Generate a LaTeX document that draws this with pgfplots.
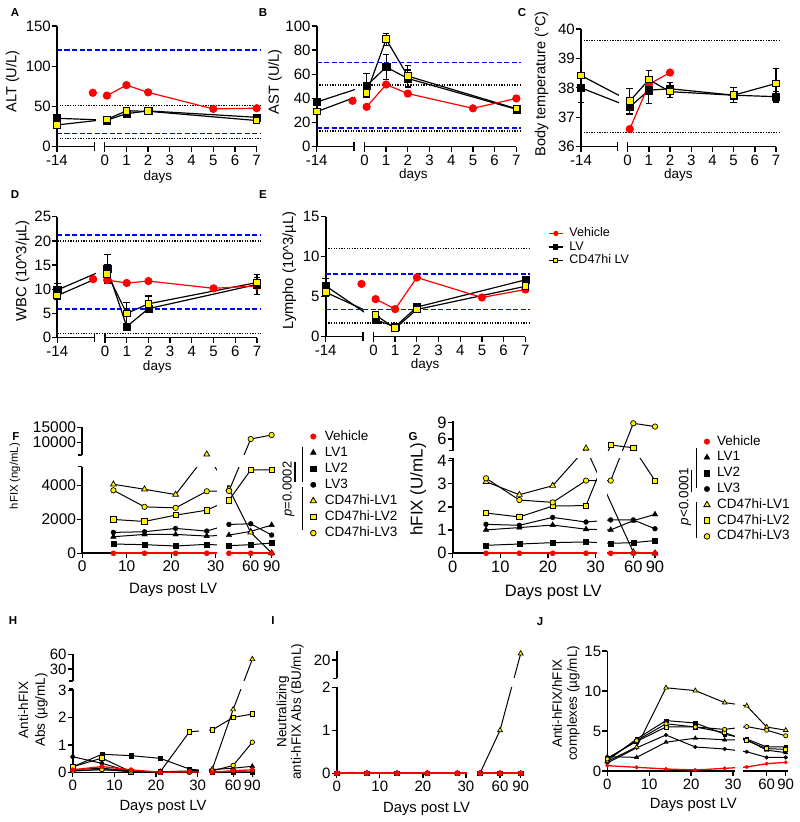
\documentclass[border=0pt]{standalone}
\usepackage{fontspec}
\setmainfont{Liberation Sans}
\usepackage{pgfplots}
\pgfplotsset{compat=1.18}
\usepackage{pgfplotstable}

\newcommand{\fs}[1]{\fontsize{#1}{#1}\selectfont}

% ---------- data, panels A-E (day, LV, err, CD47hi LV, err, vehicle) ----------
\pgfplotstableread{
d    lv    lve  cd    cde  veh
-14  35.3  0    27    0    nan
-1   nan   0    nan   0    67
-0.5 nan   0    nan   0    nan
0.1  33    0    34    0    63.5
1    41    0    44.5  0    76.5
2    44.5  0    44    0    67.5
5    nan   0    nan   0    47
7    36.5  0    32.5  0    47.8
}\tabA
\pgfplotstableread{
d    lv    lve  cd    cde  veh
-14  37    3    29    2.5  nan
-1   nan   0    nan   0    38
-0.5 nan   0    nan   0    nan
0.1  50.5  10   44.5  4    33
1    66    10.5 89    5    51.5
2    56.5  7    58.5  9    44
5    nan   0    nan   0    31.8
7    31    0    31.5  0    40
}\tabB
\pgfplotstableread{
d    lv    lve  cd    cde  veh
-14  38.0  0.5  38.42 0    nan
0.1  37.35 0.25 37.55 0.42 36.6
1    37.92 0.45 38.28 0.32 38.12
2    37.97 0.2  37.87 0.2  38.52
5    37.75 0.25 37.75 0    nan
7    37.7  0.18 38.15 0.5  nan
}\tabC
\pgfplotstableread{
d    lv    lve  cd    cde  veh
-14  9.85  1.4  8.7   0.8  nan
-1   nan   0    nan   0    12.1
-0.5 nan   0    nan   0    nan
0.1  14.3  2.9  13.2  2.0  11.9
1    2.3   0.4  5.0   2.2  11.3
2    6.0   0.6  7.0   1.6  11.7
5    nan   0    nan   0    10.2
7    11.0  2.1  11.4  1.0  10.7
}\tabD
\pgfplotstableread{
d    lv    lve  cd    cde  veh
-14  6.35  0.9  5.55  0.5  nan
-1   nan   0    nan   0    6.6
-0.5 nan   0    nan   0    nan
0.1  2.1   0.2  2.7   0.2  4.7
1    1.25  0.3  1.05  0.2  3.45
2    3.7   0.3  3.4   0.3  7.4
5    nan   0    nan   0    4.9
7    7.1   0.3  6.3   0.6  5.9
}\tabE

% ---------- data, panels F-J (day, vehicle, LV1-3, CD47hi-LV1-3) ----------
\pgfplotstableread{
d   veh l1   l2  l3   c1   c2   c3
7   0   975  546 1229 4059 1990 3708
14  0   1110 507 1268 3766 1873 2732
21  0   1110 429 1463 3454 2244 2673
28  0   1015 527 1307 6000 2537 3649
35  0   1070 448 1697 3805 3122 3668
60  0   1290 507 1736 1230 4900 11100
90  0   1660 604 1073 20   4900 12435
}\tabF
\pgfplotstableread{
d   veh l1   l2    l3   c1   c2   c3
7   0   1.01 0.345 1.25 3.09 1.74 3.24
14  0   1.11 0.40  1.21 2.53 1.57 2.30
21  0   1.22 0.46  1.55 2.92 2.04 2.20
28  0   1.04 0.49  1.35 4.3  2.06 3.14
35  0   1.01 0.43  1.44 nan  4.9  3.14
60  0   1.41 0.46  1.44 0.05 4.4  8.9
90  0   1.68 0.55  1.06 0.0  3.14 8.3
}\tabG
\pgfplotstableread{
d   veh  l1   l2   l3   c1   c2   c3
0   0.09 0.05 0.2  0.57 0.1  0.2  0.05
7   0.21 0.1  0.66 0.33 0.15 0.52 0.1
14  0.09 0.02 0.61 0.02 0.05 0.02 0.05
21  0.0  0.0  0.51 0.0  0.02 0.02 0.0
28  0.02 0.0  0.12 0.0  0.05 1.48 0.0
35  0.0  0.1  0.02 0.0  0.12 1.55 0.05
60  0.06 0.15 0.02 0.0  2.3  2.01 0.25
90  0.09 0.22 0.02 0.0  50   2.13 1.1
}\tabH
\pgfplotstableread{
d   veh l1 l2 l3 c1   c2 c3
0   0   0  0  0  0    0  0
7   0   0  0  0  0    0  0
14  0   0  0  0  0    0  0
21  0   0  0  0  0    0  0
28  0   0  0  0  0    0  0
35  0   0  0  0  0    0  0
60  0   0  0  0  1.0  0  0
90  0   0  0  0  21.5 0  0
}\tabI
\pgfplotstableread{
d   veh  l1  l2  l3   c1    c2  c3
0   0.67 1.8 1.3 1.0  1.2   1.6 1.5
7   0.46 1.7 4.0 2.9  3.0   3.7 3.8
14  0.25 3.6 6.3 4.5  10.4  5.5 5.9
21  0.13 4.1 6.0 3.0  10.05 5.5 5.5
28  0.33 3.9 4.6 2.75 8.55  4.8 5.2
35  0.5  3.9 4.0 2.4  8.15  3.8 5.55
60  0.92 2.6 3.0 1.7  5.5   2.8 5.1
90  1.08 2.3 3.0 1.7  5.1   2.7 4.4
}\tabJ

\pgfplotsset{
  base/.style={scale only axis, clip=false, anchor=south west,
    axis x line*=bottom, axis y line*=left,
    tick align=outside, major tick length=5pt,
    tick style={line width=1.3pt, black},
    tick label style={inner sep=1pt},
    /pgf/number format/assume math mode=true,
    scaled x ticks=false, scaled y ticks=false},
  panelAE/.style={base, x axis line style={draw=none},
    y axis line style={line width=1.6pt},
    xmin=-2.2, xmax=7.2, width=204pt,
    xtick={-2.2,0,1,2,3,4,5,6,7}, xticklabels={-14,0,1,2,3,4,5,6,7},
    tick label style={font=\fs{15}},
    xticklabel style={yshift=-2pt},
    x filter/.expression={x<-0.6 ? -2.2+0.127*(x+14) : x}},
  panelFJ/.style={base, axis line style={draw=none}, xmin=0,
    tick label style={font=\fs{15}}, xticklabel style={yshift=-1.5pt}},
  lvline/.style={black, line width=1.2pt},
  refblue/.style={blue, line width=1.3pt, dash pattern=on 5pt off 2.5pt},
  refdot/.style={black, line width=1.3pt, dash pattern=on 1.3pt off 1.3pt},
  ebar/.style={/pgfplots/error bars/y dir=both, /pgfplots/error bars/y explicit,
    /pgfplots/error bars/error bar style={line width=1.2pt, black},
    /pgfplots/error bars/error mark options={rotate=90, mark size=3.3pt, line width=1.2pt, black}},
  vehAE/.style={red, line width=1.2pt, mark=*, mark size=3.5pt, unbounded coords=jump},
  lvmark/.style={only marks, black, mark=square*, mark size=3.6pt, ebar},
  cdmark/.style={only marks, black, mark=square*, mark size=3.3pt,
    mark options={fill=yellow, line width=1pt}, ebar},
}

\newcommand{\xaxisAE}{%
  \draw[line width=1.6pt] (rel axis cs:0,0) -- (rel axis cs:0.183,0);
  \draw[line width=1.6pt] (rel axis cs:0.234,0) -- (rel axis cs:0.979,0);
  \draw[line width=1.3pt] ([yshift=-4.5pt]rel axis cs:0.183,0) -- ([yshift=4.5pt]rel axis cs:0.183,0);
  \draw[line width=1.3pt] ([yshift=-4.5pt]rel axis cs:0.234,0) -- ([yshift=4.5pt]rel axis cs:0.234,0);}
\newcommand{\gapAE}{\fill[white] (rel axis cs:0.189,0) rectangle (rel axis cs:0.231,1);}

\newcommand{\seriesLines}[2]{%
  \addplot[black, line width=1pt] table[x=d,y=l1]{#1};
  \addplot[black, line width=1pt] table[x=d,y=l2]{#1};
  \addplot[black, line width=1pt] table[x=d,y=l3]{#1};
  \addplot[black, line width=1pt] table[x=d,y=c1]{#1};
  \addplot[black, line width=1pt] table[x=d,y=c2]{#1};
  \addplot[black, line width=1pt] table[x=d,y=c3]{#1};
  \addplot[red, line width=#2] table[x=d,y=veh]{#1};}
\newcommand{\seriesMarks}[3]{%
  \addplot[only marks, black, mark=triangle*, mark size=1.2*#2] table[x=d,y=l1]{#1};
  \addplot[only marks, black, mark=square*, mark size=0.9*#2] table[x=d,y=l2]{#1};
  \addplot[only marks, black, mark=*, mark size=0.9*#2] table[x=d,y=l3]{#1};
  \addplot[only marks, black, mark=triangle*, mark size=1.25*#2, mark options={fill=yellow, line width=0.7pt}] table[x=d,y=c1]{#1};
  \addplot[only marks, black, mark=square*, mark size=#2, mark options={fill=yellow, line width=0.7pt}] table[x=d,y=c2]{#1};
  \addplot[only marks, black, mark=*, mark size=#2, mark options={fill=yellow, line width=0.7pt}] table[x=d,y=c3]{#1};
  \addplot[only marks, red, mark=*, mark size=#3] table[x=d,y=veh]{#1};}

\newcommand{\legendFG}{%
  \addlegendimage{only marks, red, mark=*, mark size=2.8pt}\addlegendentry{Vehicle}
  \addlegendimage{only marks, black, mark=triangle*, mark size=3.4pt}\addlegendentry{LV1}
  \addlegendimage{only marks, black, mark=square*, mark size=2.7pt}\addlegendentry{LV2}
  \addlegendimage{only marks, black, mark=*, mark size=2.7pt}\addlegendentry{LV3}
  \addlegendimage{only marks, black, mark=triangle*, mark size=3.6pt, mark options={fill=yellow, line width=0.8pt}}\addlegendentry{CD47hi-LV1}
  \addlegendimage{only marks, black, mark=square*, mark size=2.8pt, mark options={fill=yellow, line width=0.8pt}}\addlegendentry{CD47hi-LV2}
  \addlegendimage{only marks, black, mark=*, mark size=2.8pt, mark options={fill=yellow, line width=0.8pt}}\addlegendentry{CD47hi-LV3}}

\begin{document}
\begin{tikzpicture}[x=1pt,y=1pt]
\useasboundingbox (0,0) rectangle (800,822);

% ---------------- A ----------------
\begin{axis}[panelAE, at={(57pt,675.3pt)}, height=120.7pt, ymin=0, ymax=150, ytick={0,50,100,150}]
\xaxisAE
\addplot[lvline] table[x=d,y=lv]{\tabA};
\addplot[lvline] table[x=d,y=cd]{\tabA};
\gapAE
\addplot[refblue] coordinates {(-14,120) (7.2,120)};
\addplot[refblue] coordinates {(-14,16) (7.2,16)};
\addplot[refdot] coordinates {(-14,51) (7.2,51)};
\addplot[refdot] coordinates {(-14,10) (7.2,10)};
\addplot[vehAE] table[x=d,y=veh]{\tabA};
\addplot[lvmark] table[x=d,y=lv,y error=lve]{\tabA};
\addplot[cdmark] table[x=d,y=cd,y error=cde]{\tabA};
\node[rotate=90,font=\fs{14.6}] at (rel axis cs:-0.218,0.539) {ALT (U/L)};
\node[font=\fs{13.5}] at (rel axis cs:0.495,-0.251) {days};
\end{axis}

% ---------------- B ----------------
\begin{axis}[panelAE, at={(316.7pt,675.3pt)}, height=120.7pt, ymin=0, ymax=100, ytick={0,20,40,60,80,100}]
\xaxisAE
\addplot[lvline] table[x=d,y=lv]{\tabB};
\addplot[lvline] table[x=d,y=cd]{\tabB};
\gapAE
\addplot[refblue] coordinates {(-14,70) (7.2,70)};
\addplot[refblue] coordinates {(-14,15.5) (7.2,15.5)};
\addplot[refdot] coordinates {(-14,51) (7.2,51)};
\addplot[refdot] coordinates {(-14,13) (7.2,13)};
\addplot[vehAE] table[x=d,y=veh]{\tabB};
\addplot[lvmark] table[x=d,y=lv,y error=lve]{\tabB};
\addplot[cdmark] table[x=d,y=cd,y error=cde]{\tabB};
\node[rotate=90,font=\fs{14.6}] at (rel axis cs:-0.204,0.539) {AST (U/L)};
\node[font=\fs{13.5}] at (rel axis cs:0.474,-0.234) {days};
\end{axis}

% ---------------- C ----------------
\begin{axis}[panelAE, at={(581pt,675.3pt)}, width=199.3pt, height=117.7pt, ymin=36, ymax=40, ytick={36,37,38,39,40}]
\xaxisAE
\addplot[lvline] table[x=d,y=lv]{\tabC};
\addplot[lvline] table[x=d,y=cd]{\tabC};
\gapAE
\addplot[refdot] coordinates {(-14,39.6) (7.2,39.6)};
\addplot[refdot] coordinates {(-14,36.48) (7.2,36.48)};
\addplot[vehAE] table[x=d,y=veh]{\tabC};
\addplot[lvmark] table[x=d,y=lv,y error=lve]{\tabC};
\addplot[cdmark] table[x=d,y=cd,y error=cde]{\tabC};
\node[rotate=90,font=\fs{14.5}] at (rel axis cs:-0.197,0.533) {Body temperature (°C)};
\node[font=\fs{13.5}] at (rel axis cs:0.489,-0.24) {days};
\end{axis}

% ---------------- D ----------------
\begin{axis}[panelAE, at={(57.3pt,484.3pt)}, height=121pt, ymin=0, ymax=25, ytick={0,5,10,15,20,25}]
\xaxisAE
\addplot[lvline] table[x=d,y=lv]{\tabD};
\addplot[lvline] table[x=d,y=cd]{\tabD};
\gapAE
\addplot[refblue] coordinates {(-14,21.2) (7.2,21.2)};
\addplot[refblue] coordinates {(-14,5.9) (7.2,5.9)};
\addplot[refdot] coordinates {(-14,20) (7.2,20)};
\addplot[refdot] coordinates {(-14,0.9) (7.2,0.9)};
\addplot[vehAE] table[x=d,y=veh]{\tabD};
\addplot[lvmark] table[x=d,y=lv,y error=lve]{\tabD};
\addplot[cdmark] table[x=d,y=cd,y error=cde]{\tabD};
\node[rotate=90,font=\fs{14.8}] at (rel axis cs:-0.17,0.554) {WBC (10\textasciicircum 3/µL)};
\node[font=\fs{13.5}] at (rel axis cs:0.49,-0.24) {days};
\end{axis}

% ---------------- E ----------------
\begin{axis}[panelAE, at={(325.7pt,485.3pt)}, height=120pt, ymin=0, ymax=15, ytick={0,5,10,15},
  legend image code/.code={\draw[mark repeat=2,mark phase=2,#1] plot coordinates {(0pt,0pt) (7pt,0pt) (14pt,0pt)};},
  legend cell align=left,
  legend style={at={(axis description cs:1.09,0.91)}, anchor=north west, draw=none, fill=none,
    font=\fs{12.5}, inner sep=0pt, row sep=2pt, column sep=6pt,
    nodes={inner sep=0pt, text height=9pt, text depth=2.5pt}}]
\addlegendimage{red, line width=1.2pt, mark=*, mark size=2pt}\addlegendentry{Vehicle}
\addlegendimage{black, line width=1.2pt, mark=square*, mark size=2pt}\addlegendentry{LV}
\addlegendimage{black, line width=1.2pt, mark=square*, mark size=2pt, mark options={fill=yellow, line width=0.8pt}}\addlegendentry{CD47hi LV}
\xaxisAE
\addplot[lvline] table[x=d,y=lv]{\tabE};
\addplot[lvline] table[x=d,y=cd]{\tabE};
\gapAE
\addplot[refdot] coordinates {(-14,11.05) (7.2,11.05)};
\addplot[refblue] coordinates {(-14,7.84) (7.2,7.84)};
\addplot[refblue] coordinates {(-14,3.42) (7.2,3.42)};
\addplot[refdot] coordinates {(-14,1.7) (7.2,1.7)};
\addplot[vehAE] table[x=d,y=veh]{\tabE};
\addplot[lvmark] table[x=d,y=lv,y error=lve]{\tabE};
\addplot[cdmark] table[x=d,y=cd,y error=cde]{\tabE};
\node[rotate=90,font=\fs{14.7}] at (rel axis cs:-0.178,0.55) {Lympho (10\textasciicircum 3/µL)};
\node[font=\fs{13.5}] at (rel axis cs:0.487,-0.236) {days};
\end{axis}

% ---------------- F ----------------
\begin{axis}[panelFJ, at={(82.3pt,268.7pt)}, width=191.1pt, height=126pt,
  xmax=43, ymin=0, ymax=7412,
  x filter/.expression={x<=31 ? x : (x<=60 ? 33.0+(x-35)*0.196 : 37.9+(x-60)*0.1567)},
  y filter/.expression={y>5500 ? 6529+0.1766*(y-10000) : y},
  xtick={0,10,20,30,37.9,42.6}, xticklabels={0,10,20,30,60,90},
  ytick={0,2000,4000,6529,7412}, yticklabels={0,2000,4000,10000,15000},
  tick label style={font=\fs{15.5}},
  legend image code/.code={\draw[#1] plot coordinates {(0pt,0pt)};},
  legend cell align=left,
  legend style={at={(axis description cs:1.1915,0.976)}, anchor=north west, draw=none, fill=none,
    font=\fs{13.5}, inner sep=0pt, row sep=4.1pt, column sep=8.4pt,
    nodes={inner sep=0pt, text height=9.5pt, text depth=2.5pt}}]
\legendFG
\draw[line width=1.6pt] (axis cs:0,0) -- (axis cs:30.3,0);
\draw[line width=1.6pt] (axis cs:32.5,0) -- (axis cs:43,0);
\draw[line width=1.6pt] (axis cs:0,0) -- (axis cs:0,5094);
\draw[line width=1.6pt] (axis cs:0,5782) -- (axis cs:0,7412);
\draw[line width=1.3pt] (axis cs:0,5094) -- ++(-4pt,0);
\draw[line width=1.3pt] (axis cs:0,5782) -- ++(-4pt,0);
\seriesLines{\tabF}{1.6pt}
\fill[white] (axis cs:30.3,-150) rectangle (axis cs:32.5,7412);
\fill[white] (axis cs:0,5094) rectangle (axis cs:43,5782);
\seriesMarks{\tabF}{2.7pt}{2.6pt}
\node[rotate=90,font=\fs{11.3}] at (rel axis cs:-0.352,0.612) {hFIX (ng/mL)};
\node[font=\fs{15}] at (rel axis cs:0.475,-0.291) {Days post LV};
\end{axis}

% ---------------- G ----------------
\begin{axis}[panelFJ, at={(452.7pt,268.7pt)}, width=205.7pt, height=132pt,
  xmax=43.2, ymin=0, ymax=5.7,
  x filter/.expression={x<=31 ? x : (x<=60 ? 33.18+(x-35)*0.19 : 37.93+(x-60)*0.1517)},
  y filter/.expression={y>4.15 ? 4.933+(y-6)*0.2347 : y},
  xtick={0,10,20,30,37.93,42.48}, xticklabels={0,10,20,30,60,90},
  ytick={0,1,2,3,4,4.933,5.637}, yticklabels={0,1,2,3,4,6,9},
  tick label style={font=\fs{16.5}},
  legend image code/.code={\draw[#1] plot coordinates {(0pt,0pt)};},
  legend cell align=left,
  legend style={at={(axis description cs:1.22,0.893)}, anchor=north west, draw=none, fill=none,
    font=\fs{13.5}, inner sep=0pt, row sep=3.8pt, column sep=7pt,
    nodes={inner sep=0pt, text height=9.5pt, text depth=2.5pt}}]
\legendFG
\draw[line width=1.6pt] (axis cs:0,0) -- (axis cs:30.3,0);
\draw[line width=1.6pt] (axis cs:32.47,0) -- (axis cs:43.2,0);
\draw[line width=1.6pt] (axis cs:0,0) -- (axis cs:0,4.1);
\draw[line width=1.6pt] (axis cs:0,4.428) -- (axis cs:0,5.7);
\draw[line width=1.3pt] (axis cs:0,4.1) -- ++(-4pt,0);
\draw[line width=1.3pt] (axis cs:0,4.428) -- ++(-4pt,0);
\seriesLines{\tabG}{1.6pt}
\fill[white] (axis cs:30.3,-0.12) rectangle (axis cs:32.47,5.7);
\fill[white] (axis cs:0,4.1) rectangle (axis cs:43.2,4.428);
\seriesMarks{\tabG}{2.7pt}{2.6pt}
\node[rotate=90,font=\fs{17}] at (rel axis cs:-0.167,0.483) {hFIX (U/mL)};
\node[font=\fs{16.5}] at (rel axis cs:0.489,-0.296) {Days post LV};
\end{axis}

% ---------------- H ----------------
\begin{axis}[panelFJ, at={(72.7pt,49.7pt)}, width=181.3pt, height=118pt,
  xmax=43.5, ymin=0, ymax=4.318,
  x filter/.expression={x<=31 ? x : (x<=60 ? 33.5+(x-35)*0.2 : 38.5+(x-60)*0.1533)},
  y filter/.expression={y>3.1 ? 3.78+(y-30)*0.01793 : y},
  xtick={0,10,20,30,38.5,43.1}, xticklabels={0,10,20,30,60,90},
  ytick={0,1,2,3,3.78,4.318}, yticklabels={0,1,2,3,30,60}]
\draw[line width=1.6pt] (axis cs:0,0) -- (axis cs:30.4,0);
\draw[line width=1.6pt] (axis cs:32.8,0) -- (axis cs:43.5,0);
\draw[line width=1.6pt] (axis cs:0,0) -- (axis cs:0,3.05);
\draw[line width=1.6pt] (axis cs:0,3.34) -- (axis cs:0,4.318);
\draw[line width=1.3pt] (axis cs:0,3.05) -- ++(-4pt,0);
\draw[line width=1.3pt] (axis cs:0,3.34) -- ++(-4pt,0);
\seriesLines{\tabH}{1.3pt}
\fill[white] (axis cs:30.4,-0.08) rectangle (axis cs:32.8,4.318);
\fill[white] (axis cs:0,3.05) rectangle (axis cs:43.5,3.34);
\seriesMarks{\tabH}{2.3pt}{2.2pt}
\node[rotate=90,align=center,font=\fontsize{13.5}{16.7}\selectfont] at (rel axis cs:-0.219,0.528) {Anti-hFIX\\Abs (µg/mL)};
\node[font=\fs{14.8}] at (rel axis cs:0.498,-0.292) {Days post LV};
\end{axis}

% ---------------- I ----------------
\begin{axis}[panelFJ, at={(336.7pt,48.7pt)}, width=186.6pt, height=122.6pt,
  xmax=43.3, ymin=0, ymax=2.851,
  x filter/.expression={x<=31 ? x : (x<=60 ? 33.25+(x-35)*0.186 : 37.9+(x-60)*0.16)},
  y filter/.expression={y>2.05 ? 2.635+(y-20)*0.1 : y},
  xtick={0,10,20,30,37.9,42.7}, xticklabels={0,10,20,30,60,90},
  ytick={0,1,2,2.635}, yticklabels={0,1,2,20}]
\draw[line width=1.6pt] (axis cs:0,0) -- (axis cs:30.2,0);
\draw[line width=1.6pt] (axis cs:32.6,0) -- (axis cs:43.3,0);
\draw[line width=1.6pt] (axis cs:0,0) -- (axis cs:0,2.0);
\draw[line width=1.6pt] (axis cs:0,2.209) -- (axis cs:0,2.851);
\draw[line width=1.3pt] (axis cs:0,2.209) -- ++(-4pt,0);
\seriesLines{\tabI}{2pt}
\fill[white] (axis cs:30.2,-0.05) rectangle (axis cs:32.6,2.851);
\fill[white] (axis cs:0,2.0) rectangle (axis cs:43.3,2.209);
\seriesMarks{\tabI}{2.3pt}{2.6pt}
\node[rotate=90,align=center,font=\fontsize{13.5}{14.5}\selectfont] at (rel axis cs:-0.249,0.502) {Neutralizing\\anti-hFIX Abs (BU/mL)};
\node[font=\fs{14.8}] at (rel axis cs:0.482,-0.294) {Days post LV};
\end{axis}

% ---------------- J ----------------
\begin{axis}[panelFJ, at={(607.3pt,51pt)}, width=180.4pt, height=120pt,
  xmax=43.05, ymin=0, ymax=15,
  x filter/.expression={x<=31 ? x : (x<=60 ? 33.27+(x-35)*0.1908 : 38.04+(x-60)*0.1513)},
  xtick={0,10,20,30,38.04,42.58}, xticklabels={0,10,20,30,60,90},
  ytick={0,5,10,15}]
\draw[line width=1.6pt] (axis cs:0,0) -- (axis cs:30.5,0);
\draw[line width=1.6pt] (axis cs:32.46,0) -- (axis cs:43.05,0);
\draw[line width=1.6pt] (axis cs:0,0) -- (axis cs:0,15);
\seriesLines{\tabJ}{1.3pt}
\fill[white] (axis cs:30.5,-0.3) rectangle (axis cs:32.46,15);
\seriesMarks{\tabJ}{2.1pt}{1.8pt}
\node[rotate=90,align=center,font=\fontsize{13.5}{15}\selectfont] at (rel axis cs:-0.23,0.564) {Anti-hFIX/hFIX\\complexes (µg/mL)};
\node[font=\fs{14.8}] at (rel axis cs:0.477,-0.283) {Days post LV};
\end{axis}

% ---------------- brackets, p values ----------------
\draw[line width=1.2pt] (302.7,375.3) -- (302.7,340.3);
\draw[line width=1.2pt] (302.7,335.3) -- (302.7,292);
\draw[line width=1.1pt] (295,360.3) -- (295,340.3);
\node[rotate=90,font=\fs{13}] at (288.5,333) {\textit{p}=0.0002};
\draw[line width=1.2pt] (696.7,373.7) -- (696.7,333.7);
\draw[line width=1.2pt] (696.7,320.3) -- (696.7,283.7);
\draw[line width=1.1pt] (691.7,352) -- (691.7,330.3);
\node[rotate=90,font=\fs{13.5}] at (685,325.3) {\textit{p}<0.0001};

% ---------------- panel letters ----------------
\begin{scope}[every node/.style={font=\bfseries\fs{11.5}}]
\node at (15,809) {A};
\node at (263,809) {B};
\node at (522,809) {C};
\node at (15,627) {D};
\node at (263,627) {E};
\node at (16,385) {F};
\node at (413,385) {G};
\node at (13,201) {H};
\node at (273,201) {I};
\node at (540,200) {J};
\end{scope}
\end{tikzpicture}
\end{document}
